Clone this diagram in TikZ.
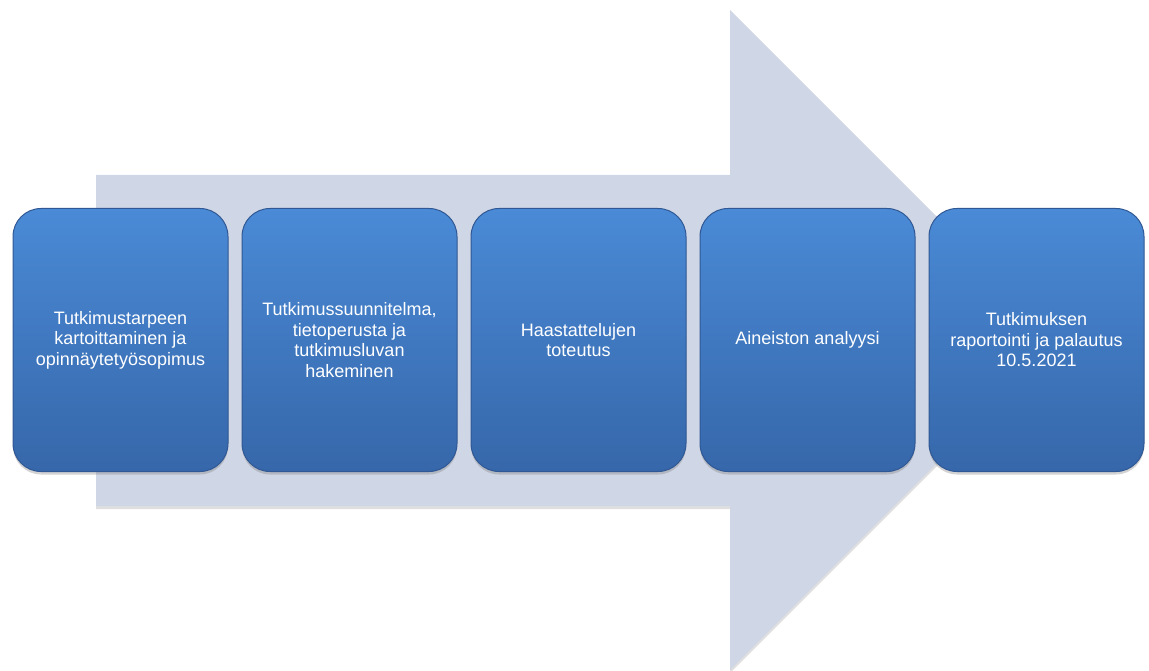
\documentclass[tikz,border=0pt]{standalone}
\usepackage{fontspec}
\setmainfont{Liberation Sans}
\usepackage{xcolor}
\usetikzlibrary{shadows}

\definecolor{arrowgray}{RGB}{207,214,229}
\definecolor{boxtop}{RGB}{74,138,214}
\definecolor{boxbottom}{RGB}{54,103,170}
\definecolor{boxline}{RGB}{48,88,148}

\tikzset{
    stepbox/.style={draw=boxline, line width=1pt, rounded corners=28pt,
        top color=boxtop, bottom color=boxbottom,
        minimum width=215pt, minimum height=263pt, align=center,
        text=white, font=\fontsize{18}{20.5}\selectfont,
        drop shadow={shadow xshift=0pt, shadow yshift=-3pt, opacity=0.35}}
}

\begin{document}
\begin{tikzpicture}[x=1pt, y=-1pt]
    \useasboundingbox (0,0) rectangle (1149,671);

    % Draw the big background arrow pointing to the right
    \fill[arrowgray, drop shadow={shadow xshift=0pt, shadow yshift=-3pt, opacity=0.25}]
        (96,175) -- (730,175) -- (730,10) -- (1060,340) -- (730,670) -- (730,506) -- (96,506) -- cycle;

    % Draw the five steps of the study
    \node[stepbox] (step1) at (120.5,340) {Tutkimustarpeen\\kartoittaminen ja\\opinnäytetyösopimus};
    \node[stepbox] (step2) at (349.5,340) {Tutkimussuunnitelma,\\tietoperusta ja\\tutkimusluvan\\hakeminen};
    \node[stepbox] (step3) at (578.5,340) {Haastattelujen\\toteutus};
    \node[stepbox] (step4) at (807.5,340) {Aineiston analyysi};
    \node[stepbox] (step5) at (1036.5,340) {Tutkimuksen\\raportointi ja palautus\\10.5.2021};
\end{tikzpicture}
\end{document}
